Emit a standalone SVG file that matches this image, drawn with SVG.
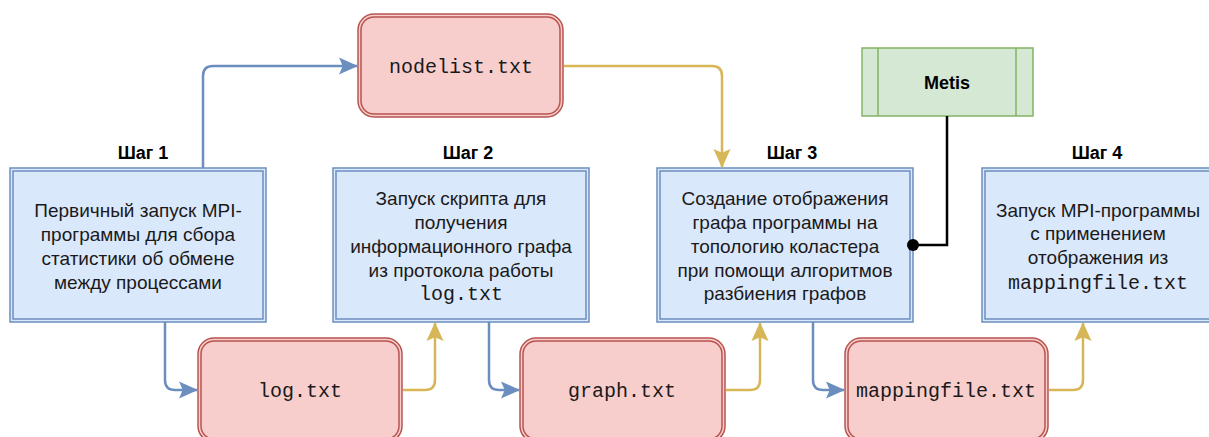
<svg xmlns="http://www.w3.org/2000/svg" width="1209" height="437" viewBox="0 0 1209 437">
<defs>
<style>
.step{fill:#dae8fc;stroke:#6c8ebf;stroke-width:1.5}
.file{fill:#f8cecc;stroke:#b85450;stroke-width:1.5}
.proc{fill:#d5e8d4;stroke:#82b366;stroke-width:1.5}
.t{font-family:"Liberation Sans",Arial,sans-serif;font-size:19px;fill:#1a1a1a;text-anchor:middle}
.m{font-family:"Liberation Mono","DejaVu Sans Mono",monospace;font-size:20px;fill:#1a1a1a;text-anchor:middle}
.h{font-family:"Liberation Sans",Arial,sans-serif;font-size:18px;font-weight:bold;fill:#000;text-anchor:middle}
.cb{fill:none;stroke:#6c8ebf;stroke-width:2.5}
.cy{fill:none;stroke:#d6b656;stroke-width:2.5}
</style>
<marker id="ab" viewBox="0 0 10 10" refX="9.5" refY="5" markerWidth="19" markerHeight="19" markerUnits="userSpaceOnUse" orient="auto">
<path d="M0,0.5 L10,5 L0,9.5 L2,5 Z" fill="#6c8ebf"/>
</marker>
<marker id="ay" viewBox="0 0 10 10" refX="9.5" refY="5" markerWidth="19" markerHeight="19" markerUnits="userSpaceOnUse" orient="auto">
<path d="M0,0.5 L10,5 L0,9.5 L2,5 Z" fill="#d6b656"/>
</marker>
</defs>
<rect width="1209" height="437" fill="#fff"/>

<g id="step1">
<text class="h" x="143" y="159">Шаг 1</text>
<rect class="step" x="10" y="168" width="256" height="154"/>
<rect class="step" x="13" y="171" width="250" height="148"/>
<text class="t" x="138" y="217">Первичный запуск MPI-</text>
<text class="t" x="138" y="241">программы для сбора</text>
<text class="t" x="138" y="265">статистики об обмене</text>
<text class="t" x="138" y="289">между процессами</text>
</g>

<g id="step2">
<text class="h" x="468" y="159">Шаг 2</text>
<rect class="step" x="333" y="168" width="256" height="154"/>
<rect class="step" x="336" y="171" width="250" height="148"/>
<text class="t" x="461" y="205">Запуск скрипта для</text>
<text class="t" x="461" y="229">получения</text>
<text class="t" x="461" y="253">информационного графа</text>
<text class="t" x="461" y="277">из протокола работы</text>
<text class="m" x="461" y="300">log.txt</text>
</g>

<g id="step3">
<text class="h" x="792" y="159">Шаг 3</text>
<rect class="step" x="657" y="168" width="256" height="154"/>
<rect class="step" x="660" y="171" width="250" height="148"/>
<text class="t" x="785" y="205">Создание отображения</text>
<text class="t" x="785" y="229">графа программы на</text>
<text class="t" x="785" y="253">топологию коластера</text>
<text class="t" x="785" y="277">при помощи алгоритмов</text>
<text class="t" x="785" y="300">разбиения графов</text>
</g>

<g id="step4">
<text class="h" x="1097" y="159">Шаг 4</text>
<rect class="step" x="982" y="168" width="256" height="154"/>
<rect class="step" x="985" y="171" width="250" height="148"/>
<text class="t" x="1098" y="217">Запуск MPI-программы</text>
<text class="t" x="1098" y="240">с применением</text>
<text class="t" x="1098" y="264">отображения из</text>
<text class="m" x="1098" y="289">mappingfile.txt</text>
</g>

<g id="nodelist">
<rect class="file" x="358" y="14" width="205" height="103" rx="16"/>
<rect class="file" x="361" y="17" width="199" height="97" rx="13"/>
<text class="m" x="461" y="73">nodelist.txt</text>
</g>

<g id="logtxt">
<rect class="file" x="198" y="338" width="204" height="104" rx="16"/>
<rect class="file" x="201" y="341" width="198" height="98" rx="13"/>
<text class="m" x="300" y="397">log.txt</text>
</g>

<g id="graphtxt">
<rect class="file" x="520" y="338" width="205" height="104" rx="16"/>
<rect class="file" x="523" y="341" width="199" height="98" rx="13"/>
<text class="m" x="622" y="397">graph.txt</text>
</g>

<g id="mappingfile">
<rect class="file" x="845" y="338" width="203" height="104" rx="16"/>
<rect class="file" x="848" y="341" width="197" height="98" rx="13"/>
<text class="m" x="946" y="397">mappingfile.txt</text>
</g>

<g id="metis">
<rect class="proc" x="862" y="48" width="171" height="68"/>
<line x1="878" y1="48" x2="878" y2="116" stroke="#82b366" stroke-width="1.5"/>
<line x1="1016" y1="48" x2="1016" y2="116" stroke="#82b366" stroke-width="1.5"/>
<text class="h" x="947" y="89">Metis</text>
</g>

<g id="connectors">
<path class="cb" d="M203,168 V76 Q203,66 213,66 H357" marker-end="url(#ab)"/>
<path class="cy" d="M564,66 H712 Q722,66 722,76 V167" marker-end="url(#ay)"/>
<path class="cb" d="M165,322 V380 Q165,390 175,390 H197" marker-end="url(#ab)"/>
<path class="cy" d="M403,390 H425 Q435,390 435,380 V323" marker-end="url(#ay)"/>
<path class="cb" d="M489,322 V380 Q489,390 499,390 H519" marker-end="url(#ab)"/>
<path class="cy" d="M726,390 H750 Q760,390 760,380 V323" marker-end="url(#ay)"/>
<path class="cb" d="M813,322 V380 Q813,390 823,390 H844" marker-end="url(#ab)"/>
<path class="cy" d="M1049,390 H1073 Q1083,390 1083,380 V323" marker-end="url(#ay)"/>
<path d="M947,116 V245 H913" fill="none" stroke="#000" stroke-width="2.5"/>
<circle cx="913" cy="245" r="6" fill="#000"/>
</g>
</svg>
